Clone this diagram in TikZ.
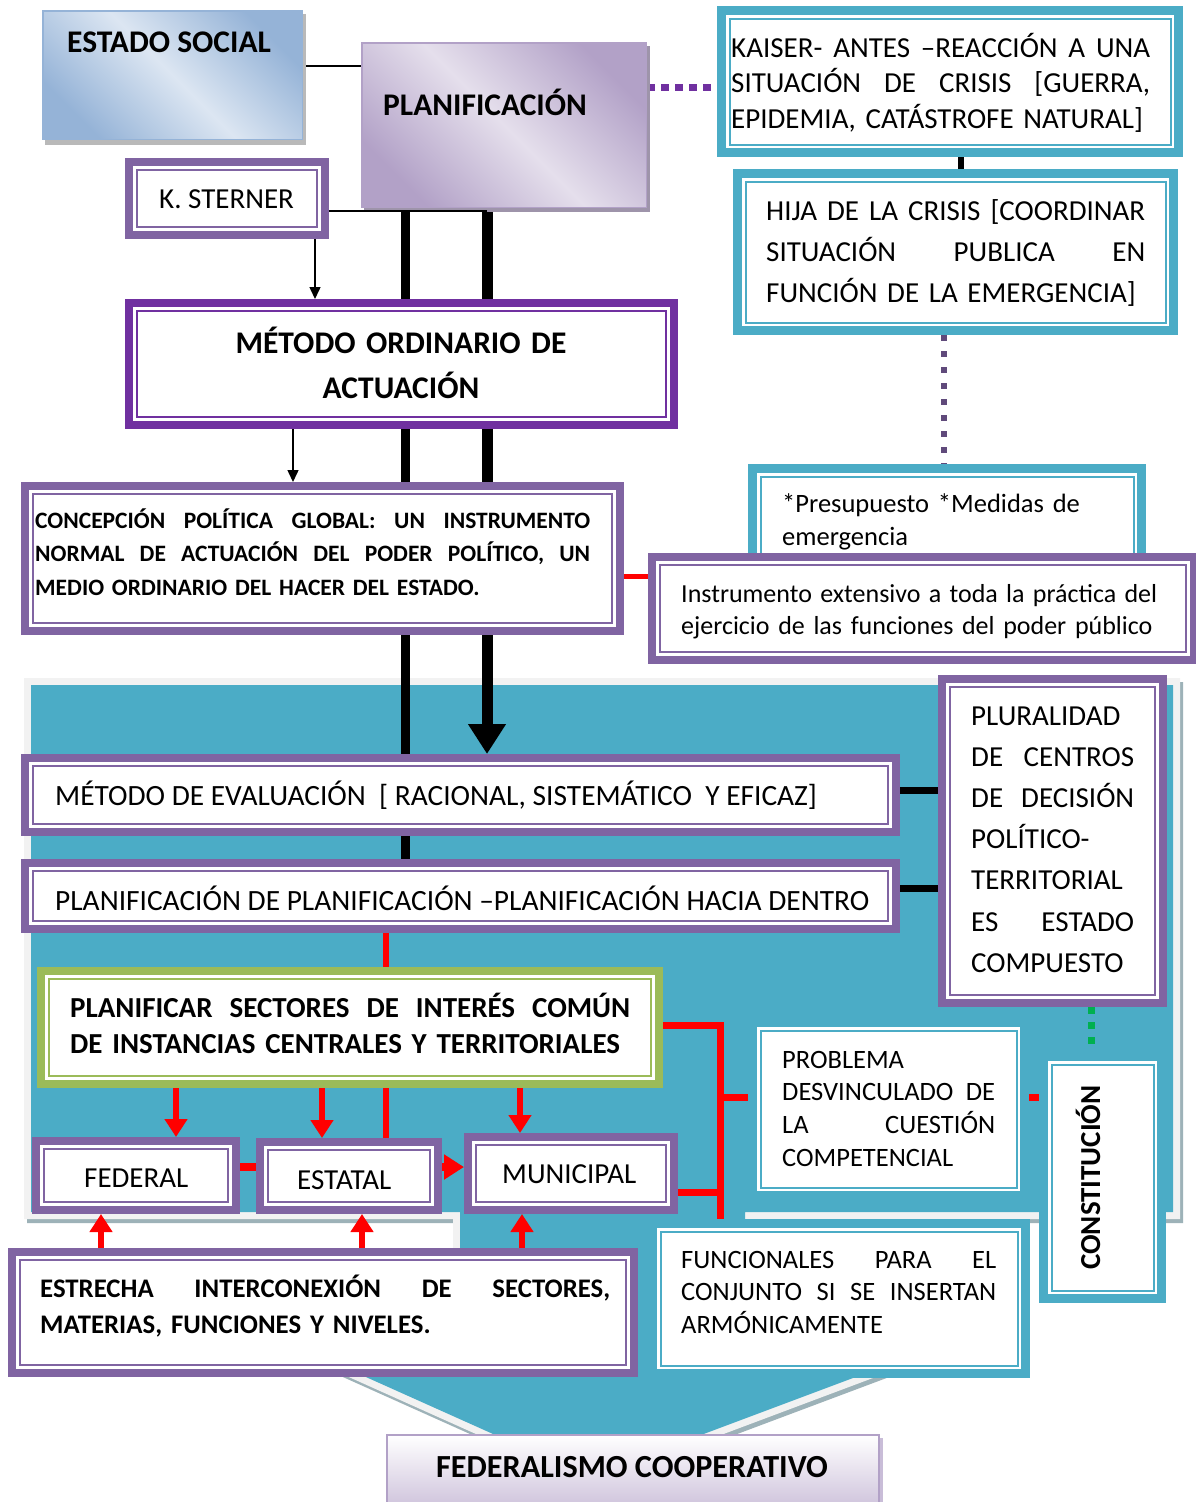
\documentclass[tikz,border=0pt]{standalone}
\usepackage{fontspec}
\setmainfont{Carlito}
\usetikzlibrary{arrows.meta}
\pgfdeclarelayer{back}
\pgfdeclarelayer{mid}
\pgfdeclarelayer{front}
\pgfsetlayers{back,mid,main,front}
\definecolor{pur}{HTML}{8064A2}
\definecolor{dpur}{HTML}{7030A0}
\definecolor{tl}{HTML}{4BACC6}
\definecolor{grn}{HTML}{9BBB59}
\definecolor{lgray}{HTML}{F2F2F2}
\definecolor{sgray}{HTML}{9DB2B8}
\definecolor{bluedk}{HTML}{95B3D7}
\definecolor{bluelt}{HTML}{DCE6F2}
\definecolor{lavdk}{HTML}{B2A1C7}
\definecolor{lavlt}{HTML}{E5DFEC}
\definecolor{lavbot}{HTML}{CCC0DA}
\definecolor{dotc}{HTML}{604A7B}
\definecolor{gdot}{HTML}{00B050}
\definecolor{rd}{HTML}{FF0000}
\newcommand\fsz[2]{\fontsize{#1}{#2}\selectfont}
\newcommand\jline[2]{\leavevmode\hbox to #1{#2}}
\newcommand\mkbox[7]{\node[#2, minimum width={#5-#3-#7}, minimum height={#6-#4-#7}] (#1) at ({(#3+#5)/2},{(#4+#6)/2}) {};}
\tikzset{
  dbl/.style 2 args={draw=#1, line width=#2pt, fill=white,
    path picture={\draw[#1, line width=2pt] ([shift={(8,8)}]path picture bounding box.north west) rectangle ([shift={(-8,-8)}]path picture bounding box.south east);}},
  grad/.style 2 args={draw=#1, line width=1.5pt, top color=#1, bottom color=#1, middle color=#2, shading angle=-45},
  tx/.style={anchor=base west, inner sep=0pt},
  rarrow/.style={rd, line width=6pt, -{Triangle[width=22pt,length=18pt]}},
  redline/.style={rd, line width=7pt},
}
\begin{document}
\begin{tikzpicture}[x=1pt,y=-1pt, every node/.style={inner sep=0pt}]
\useasboundingbox (0,0) rectangle (1196,1502);
% helper coordinates
\coordinate (colA) at (405,0);
\coordinate (colB) at (487,0);
\coordinate (colC) at (315,0);
\coordinate (colD) at (293,0);
\coordinate (colE) at (961,0);
\coordinate (colF) at (944,0);
\coordinate (colG) at (1091,0);
\coordinate (colH) at (386,0);
\coordinate (colI) at (176,0);
\coordinate (colJ) at (322,0);
\coordinate (colK) at (520,0);
\coordinate (colL) at (101,0);
\coordinate (colM) at (362,0);
\coordinate (colN) at (522,0);
\coordinate (colO) at (720,0);
\coordinate (rowA) at (0,576);
\coordinate (rowP) at (0,87);
\coordinate (rowB) at (0,790);
\coordinate (rowC) at (0,888);
\coordinate (rowD) at (0,1167);
\coordinate (rowE) at (0,1025);
\coordinate (rowF) at (0,1097);
\coordinate (rowG) at (0,1192);
\coordinate (rowS) at (0,211);
\coordinate (rowT) at (0,66);

\begin{pgfonlayer}{back}
\fill[white] (-5,-5) rectangle (1201,1507);
\draw[shift={(3,4)}, sgray, fill=sgray, line width=14pt, line join=miter]
  (31,685) -- (1173,685) -- (1173,1212) -- (745,1212) -- (745,1360) -- (901,1360) -- (589,1477) -- (328,1360) -- (460,1360) -- (460,1212) -- (31,1212) -- cycle;
\draw[lgray, line width=14pt, line join=miter]
  (31,685) -- (1173,685) -- (1173,1212) -- (745,1212) -- (745,1360) -- (901,1360) -- (589,1477) -- (328,1360) -- (460,1360) -- (460,1212) -- (31,1212) -- cycle;
\fill[tl]
  (31,685) -- (1173,685) -- (1173,1212) -- (745,1212) -- (745,1360) -- (901,1360) -- (589,1477) -- (328,1360) -- (460,1360) -- (460,1212) -- (31,1212) -- cycle;
\end{pgfonlayer}

% gradient boxes
\fill[gray!55] (45,14) rectangle (306,145);
\mkbox{esoc}{grad={bluedk}{bluelt}}{42}{10}{303}{140}{1.5}
\fill[lavdk!60!gray] (364,46) rectangle (650,212);
\mkbox{plan}{grad={lavdk}{lavlt}}{361}{42}{647}{208}{1.5}
\fill[lavdk!70] (390,1438) rectangle (883,1512);
\mkbox{fcoop}{draw=lavdk, line width=2pt, top color=white, bottom color=lavbot}{386}{1434}{880}{1512}{2}

% framed boxes
\mkbox{stern}{dbl={pur}{8}}{125}{158}{329}{239}{8}
\mkbox{mord}{dbl={dpur}{8}}{125}{299}{678}{429}{8}
\mkbox{conc}{dbl={pur}{8}}{21}{482}{624}{635}{8}
\mkbox{kaiser}{dbl={tl}{9}}{717}{6}{1183}{157}{9}
\mkbox{hija}{dbl={tl}{9}}{733}{169}{1178}{335}{9}
\mkbox{presu}{dbl={tl}{9}}{748}{464}{1146}{590}{9}
\mkbox{instr}{dbl={pur}{8}}{648}{553}{1198}{664}{8}
\mkbox{meval}{dbl={pur}{8}}{21}{754}{900}{836}{8}
\mkbox{pplan}{dbl={pur}{8}}{21}{859}{900}{933}{8}
\mkbox{plur}{dbl={pur}{8}}{938}{675}{1167}{1007}{8}
\mkbox{pfic}{dbl={grn}{8}}{37}{967}{663}{1088}{8}
\mkbox{fed}{dbl={pur}{8}}{32}{1137}{240}{1214}{8}
\mkbox{est}{dbl={pur}{8}}{256}{1138}{442}{1214}{8}
\mkbox{mun}{dbl={pur}{8}}{464}{1133}{678}{1214}{8}
\mkbox{prob}{dbl={tl}{9}}{748}{1018}{1029}{1200}{9}
\mkbox{func}{dbl={tl}{9}}{648}{1219}{1030}{1378}{9}
\mkbox{const}{dbl={tl}{9}}{1039}{1052}{1166}{1303}{9}
\mkbox{estr}{dbl={pur}{8}}{8}{1248}{638}{1377}{8}

% texts
\node[tx, font=\bfseries\fsz{31.5}{38}] (tesoc) at (67,52) {ESTADO SOCIAL};
\node[tx, font=\bfseries\fsz{31.5}{38}] (tplan) at (383,115) {PLANIFICACIÓN};
\node[tx, font=\fsz{29}{35}] (tstern) at (159,208) {K. STERNER};
\node[anchor=base, text width=540pt, align=center, font=\bfseries\fsz{31.5}{45}] (tmord) at (401,353) {MÉTODO ORDINARIO DE\\ACTUACIÓN};
\node[tx, text width=600pt, font=\bfseries\fsz{23.5}{33.5}] (tconc) at (35,528) {\jline{555pt}{CONCEPCIÓN\hfill POLÍTICA\hfill GLOBAL:\hfill UN\hfill INSTRUMENTO}\\\jline{555pt}{NORMAL\hfill DE\hfill ACTUACIÓN\hfill DEL\hfill PODER\hfill POLÍTICO,\hfill UN}\\MEDIO ORDINARIO DEL HACER DEL ESTADO.};
\node[tx, text width=440pt, font=\fsz{29}{35.5}] (tkai) at (731,57) {\jline{419pt}{KAISER-\hfill ANTES\hfill –REACCIÓN\hfill A\hfill UNA}\\\jline{419pt}{SITUACIÓN\hfill DE\hfill CRISIS\hfill [GUERRA,}\\EPIDEMIA, CATÁSTROFE NATURAL]};
\node[tx, text width=400pt, font=\fsz{29}{41}] (thija) at (766,220) {\jline{379pt}{HIJA\hfill DE\hfill LA\hfill CRISIS\hfill [COORDINAR}\\\jline{379pt}{SITUACIÓN\hfill PUBLICA\hfill EN}\\FUNCIÓN DE LA EMERGENCIA]};
\node[tx, text width=340pt, font=\fsz{26.5}{33}] (tpres) at (782,512) {*Presupuesto *Medidas de\\emergencia};
\node[tx, text width=520pt, font=\fsz{26}{32.5}] (tins) at (681,602) {\jline{476pt}{Instrumento\hfill extensivo\hfill a\hfill toda\hfill la\hfill práctica\hfill del}\\ejercicio de las funciones del poder público};
\node[tx, font=\fsz{29.4}{35}] (tmev) at (55,805) {MÉTODO DE EVALUACIÓN\ \ [ RACIONAL, SISTEMÁTICO\ \ Y EFICAZ]};
\node[tx, font=\fsz{29.4}{35}] (tppl) at (55,910) {PLANIFICACIÓN DE PLANIFICACIÓN –PLANIFICACIÓN HACIA DENTRO};
\node[tx, text width=190pt, font=\fsz{29}{41.2}] (tplu) at (971,725) {PLURALIDAD\\\jline{163pt}{DE\hfill CENTROS}\\\jline{163pt}{DE\hfill DECISIÓN}\\POLÍTICO-\\TERRITORIAL\\\jline{163pt}{ES\hfill ESTADO}\\COMPUESTO};
\node[tx, text width=600pt, font=\bfseries\fsz{29}{36.5}] (tpfi) at (70,1017) {\jline{560pt}{PLANIFICAR\hfill SECTORES\hfill DE\hfill INTERÉS\hfill COMÚN}\\DE INSTANCIAS CENTRALES Y TERRITORIALES};
\node[tx, font=\fsz{29}{35}] (tfed) at (84,1187) {FEDERAL};
\node[tx, font=\fsz{29}{35}] (test) at (297,1189) {ESTATAL};
\node[tx, font=\fsz{29}{35}] (tmun) at (502,1183) {MUNICIPAL};
\node[tx, text width=240pt, font=\fsz{26.5}{32.7}] (tpro) at (782,1068) {PROBLEMA\\\jline{213pt}{DESVINCULADO\hfill DE}\\\jline{213pt}{LA\hfill CUESTIÓN}\\COMPETENCIAL};
\node[tx, text width=340pt, font=\fsz{26.5}{32.5}] (tfun) at (681,1268) {\jline{315pt}{FUNCIONALES\hfill PARA\hfill EL}\\\jline{315pt}{CONJUNTO\hfill SI\hfill SE\hfill INSERTAN}\\ARMÓNICAMENTE};
\node[tx, text width=600pt, font=\bfseries\fsz{26.8}{36}] (tstr) at (40,1297) {\jline{570pt}{ESTRECHA\hfill INTERCONEXIÓN\hfill DE\hfill SECTORES,}\\MATERIAS, FUNCIONES Y NIVELES.};
\node[tx, font=\bfseries\fsz{32.2}{38}] (tfco) at (436,1477) {FEDERALISMO COOPERATIVO};
\node[tx, rotate=90, font=\bfseries\fsz{29}{35}] (tcon) at (1100,1270) {CONSTITUCIÓN};

% connectors behind boxes
\begin{pgfonlayer}{mid}
\draw[line width=1.5pt] (esoc.east |- rowT) -- (plan.west |- rowT);
\draw[line width=9pt] (colA |- plan.south) -- (colA |- pplan.north);
\draw[line width=11pt, -{Triangle[width=36pt,length=30pt]}] (colB |- plan.south) -- (colB |- meval.north);
\draw[line width=1.5pt, -{Triangle[width=11pt,length=12pt]}] (colC |- stern.south) -- (colC |- mord.north);
\draw[line width=1.5pt, -{Triangle[width=11pt,length=12pt]}] (colD |- mord.south) -- (colD |- conc.north);
\draw[rd, line width=5pt] (conc.east |- rowA) -- (instr.west |- rowA);
\draw[dpur, line width=7pt, dash pattern=on 8pt off 6pt] (plan.east |- rowP) -- (kaiser.west |- rowP);
\draw[line width=6pt] (colE |- kaiser.south) -- (colE |- hija.north);
\draw[dotc, line width=6pt, dash pattern=on 6pt off 10pt] (colF |- hija.south) -- (colF |- presu.north);
\draw[line width=7pt] (meval.east |- rowB) -- (plur.west |- rowB);
\draw[line width=7pt] (pplan.east |- rowC) -- (plur.west |- rowC);
\draw[gdot, line width=7pt, dash pattern=on 7pt off 8pt] (colG |- plur.south) -- (colG |- const.north);
\draw[rd, line width=6pt] (colH |- pplan.south) -- (colH |- est.north);
\draw[rarrow] (colI |- pfic.south) -- (colI |- fed.north);
\draw[rarrow] (colJ |- pfic.south) -- (colJ |- est.north);
\draw[rarrow] (colK |- pfic.south) -- (colK |- mun.north);
\draw[rd, line width=8pt] (fed.east |- rowD) -- (est.west |- rowD);
\draw[rd, line width=8pt, -{Triangle[width=24pt,length=20pt]}] (est.east |- rowD) -- (mun.west |- rowD);
\draw[rarrow] (colL |- estr.north) -- (colL |- fed.south);
\draw[rarrow] (colM |- estr.north) -- (colM |- est.south);
\draw[rarrow] (colN |- estr.north) -- (colN |- mun.south);
\draw[redline] (pfic.east |- rowE) -| (colO |- func.north);
\draw[redline] (colO |- rowF) -- (prob.west |- rowF);
\draw[redline] (mun.east |- rowG) -- (colO |- rowG);
\draw[redline] (prob.east |- rowF) -- (const.west |- rowF);
\end{pgfonlayer}

\begin{pgfonlayer}{front}
\draw[line width=2pt] (stern.east |- rowS) -- (colB |- rowS);
\end{pgfonlayer}
\end{tikzpicture}
\end{document}
